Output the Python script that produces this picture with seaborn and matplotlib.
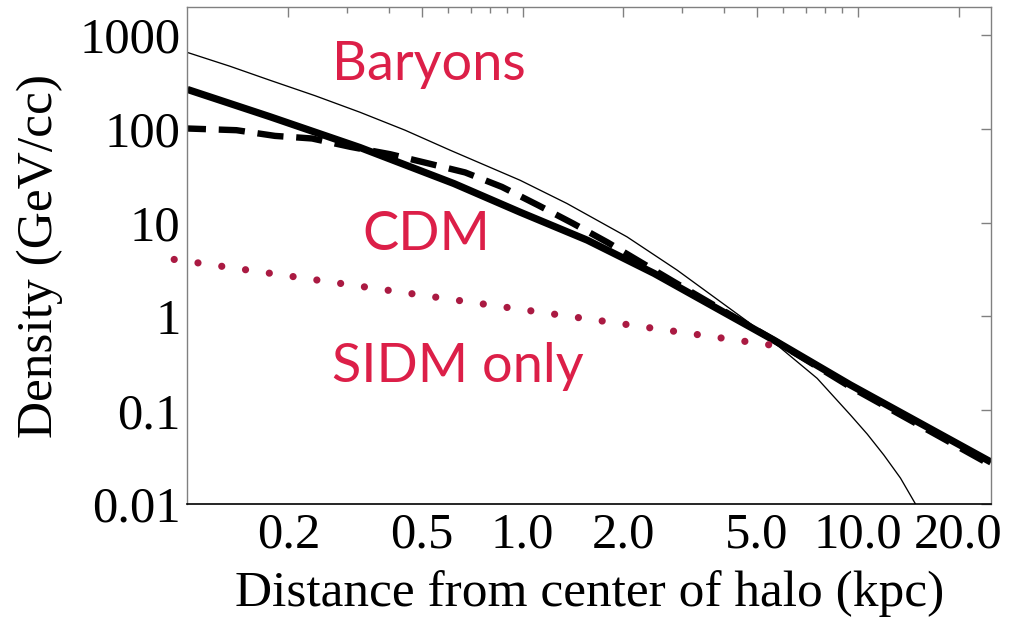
import matplotlib
matplotlib.use("Agg")
import matplotlib.pyplot as plt
import matplotlib.ticker as mticker
import seaborn as sns

# Radius (kpc) and density (GeV/cc) for each halo profile
r_baryons = [0.100, 0.1339, 0.1763, 0.2403, 0.327, 0.446, 0.608, 0.983, 1.356, 2.05,
             2.89, 5.01, 7.57, 9.52, 10.68, 11.97, 13.42, 14.88, 15.94]
rho_baryons = [655, 467, 331, 226.5, 151, 97.1, 59.4, 28.4, 16.06, 7.07,
               3.13, 0.746, 0.219, 0.0889, 0.0557, 0.0333, 0.0189, 0.0100, 0.0064]

r_cdm = [0.100, 0.1763, 0.327, 0.6237, 0.983, 1.56, 2.47, 3.56, 5.62, 9.52, 25.0]
rho_cdm = [264, 135.2, 63.5, 26.2, 12.97, 6.52, 2.88, 1.39, 0.560, 0.186, 0.028]

r_sidm_bar = [0.100, 0.140, 0.1825, 0.2354, 0.307, 0.402, 0.524, 0.674, 0.868, 1.116,
              1.414, 1.793, 2.257, 2.83, 5.62, 9.52, 25.0]
rho_sidm_bar = [101.2, 97.1, 84.4, 79.2, 64.4, 53.9, 42.9, 34.4, 24.1, 15.3,
                9.83, 6.17, 3.78, 2.34, 0.560, 0.177, 0.026]

r_sidm_only = [0.0913, 0.898, 5.44]
rho_sidm_only = [4.06, 1.25, 0.499]

x_major = [0.2, 0.5, 1.0, 2.0, 5.0, 10.0, 20.0]
x_major_labels = ["0.2", "0.5", "1.0", "2.0", "5.0", "10.0", "20.0"]
x_minor = [0.3, 0.4, 0.6, 0.7, 0.8, 0.9, 3, 4, 6, 7, 8, 9]
y_major = [0.01, 0.1, 1, 10, 100, 1000]
y_major_labels = ["0.01", "0.1", "1", "10", "100", "1000"]

labels = ["Baryons", "CDM", "SIDM only"]

RED = "#DC1F48"
DOT_RED = "#AA1A42"
GRAY = "#808080"

sns.set_style("white")
plt.rcParams["font.family"] = ["Liberation Serif", "DejaVu Serif"]
plt.rcParams["text.color"] = "black"
plt.rcParams["axes.labelcolor"] = "black"
plt.rcParams["xtick.labelcolor"] = "black"
plt.rcParams["ytick.labelcolor"] = "black"

fig = plt.figure(figsize=(10.26, 6.21), dpi=100)
ax = fig.add_axes([0.1827, 0.1884, 0.7832, 0.8003])
ax.set_xscale("log")
ax.set_yscale("log")

sns.lineplot(x=r_baryons, y=rho_baryons, ax=ax, color="black", lw=0.95)
sns.lineplot(x=r_cdm, y=rho_cdm, ax=ax, color="black", lw=5.2,
             solid_capstyle="butt")
sns.lineplot(x=r_sidm_bar, y=rho_sidm_bar, ax=ax, color="black", lw=4.6,
             linestyle=(1.2, (4.1, 2.0)), dash_capstyle="butt")
sns.lineplot(x=r_sidm_only, y=rho_sidm_only, ax=ax, color=DOT_RED, lw=5.2,
             linestyle=(0, (0.001, 3.325)), dash_capstyle="round", clip_on=False)

ax.set_xlim(0.1, 25)
ax.set_ylim(0.01, 2000)

ax.xaxis.set_major_locator(mticker.FixedLocator(x_major))
ax.xaxis.set_major_formatter(mticker.FixedFormatter(x_major_labels))
ax.xaxis.set_minor_locator(mticker.FixedLocator(x_minor))
ax.xaxis.set_minor_formatter(mticker.NullFormatter())
ax.yaxis.set_major_locator(mticker.FixedLocator(y_major))
ax.yaxis.set_major_formatter(mticker.FixedFormatter(y_major_labels))
ax.yaxis.set_minor_locator(mticker.LogLocator(base=10, subs=range(2, 10)))
ax.yaxis.set_minor_formatter(mticker.NullFormatter())

ax.tick_params(which="both", direction="in", top=True, right=True,
               color=GRAY, width=1.0, labelsize=36.5, labelcolor="black")
ax.tick_params(which="major", length=7)
ax.tick_params(which="minor", length=4)
ax.tick_params(axis="x", pad=6)
ax.tick_params(axis="y", pad=5)

for side in ["left", "top", "right"]:
    ax.spines[side].set_color(GRAY)
    ax.spines[side].set_linewidth(1.0)
ax.spines["bottom"].set_color("black")
ax.spines["bottom"].set_linewidth(1.2)

ax.set_xlabel("Distance from center of halo (kpc)", fontsize=37, color="black")
ax.set_ylabel("Density (GeV/cc)", fontsize=37, color="black")
ax.xaxis.set_label_coords(0.5, -0.133)
ax.yaxis.set_label_coords(-0.155, 0.5)

label_pos = [(0.180, 0.853), (0.218, 0.511), (0.1795, 0.246)]
for text, (tx, ty) in zip(labels, label_pos):
    ax.text(tx, ty, text, transform=ax.transAxes, color=RED, fontsize=39,
            family="Lato", ha="left", va="baseline")

fig.text(0.0146, 0.002, "Mo D", color=RED, fontsize=39, family="Lato",
         ha="left", va="top")

fig.savefig("out.png", dpi=100)
